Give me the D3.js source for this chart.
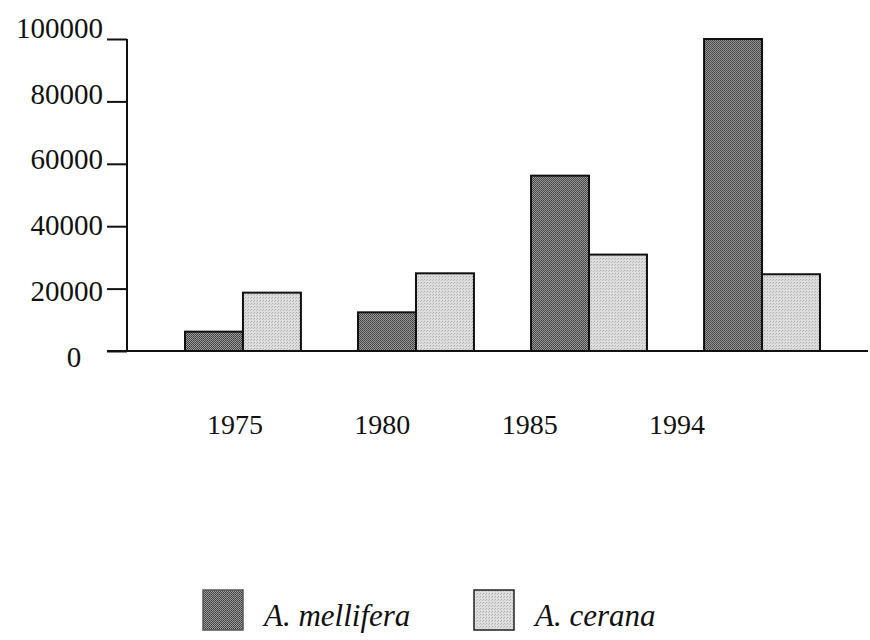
<!DOCTYPE html>
<html>
<head>
<meta charset="utf-8">
<script src="https://cdn.jsdelivr.net/npm/d3@7"></script>
<style>
  body { margin: 0; background: #fff; }
  text { font-family: "Liberation Serif", "Times New Roman", serif; fill: #111; }
</style>
</head>
<body>
<div id="chart"></div>
<script>
var years = ["1975", "1980", "1985", "1994"];
var mellifera = [6200, 12400, 56200, 100000];
var cerana = [18700, 24900, 30900, 24600];
var yTicks = [0, 20000, 40000, 60000, 80000, 100000];
var seriesNames = ["A. mellifera", "A. cerana"];

var width = 870, height = 640;

var svg = d3.select("#chart").append("svg")
  .attr("width", width)
  .attr("height", height);

// dithered fills like the printed original
var defs = svg.append("defs");
var dark = defs.append("pattern").attr("id", "darkFill")
  .attr("patternUnits", "userSpaceOnUse").attr("width", 2).attr("height", 2);
dark.append("rect").attr("width", 2).attr("height", 2).attr("fill", "#9c9c9c");
dark.append("rect").attr("width", 1).attr("height", 1).attr("fill", "#3c3c3c");
dark.append("rect").attr("x", 1).attr("y", 1).attr("width", 1).attr("height", 1).attr("fill", "#4a4a4a");

var light = defs.append("pattern").attr("id", "lightFill")
  .attr("patternUnits", "userSpaceOnUse").attr("width", 3).attr("height", 3);
light.append("rect").attr("width", 3).attr("height", 3).attr("fill", "#dedede");
light.append("rect").attr("width", 1).attr("height", 1).attr("fill", "#ababab");
light.append("rect").attr("x", 2).attr("y", 1).attr("width", 1).attr("height", 1).attr("fill", "#bcbcbc");

var fills = ["url(#darkFill)", "url(#lightFill)"];

var x0 = 127, baseY = 351;

var y = d3.scaleLinear()
  .domain([0, 100000])
  .range([baseY, 39]);

// labels in the original drift a little from their ticks
var labelShift = d3.scaleLinear().domain([0, 100000]).range([6, -11]);

var x = d3.scaleBand()
  .domain(years)
  .range([185, 820])
  .paddingInner(0.33)
  .paddingOuter(0);

var xSub = d3.scaleBand()
  .domain([0, 1])
  .range([0, x.bandwidth()]);

var xLabel = d3.scalePoint()
  .domain(years)
  .range([235, 677]);

// y axis
var yAxis = svg.append("g")
  .attr("transform", "translate(" + x0 + ",0)")
  .call(d3.axisLeft(y).tickValues(yTicks).tickSize(20).tickPadding(4).tickFormat(d3.format("d")));

yAxis.select(".domain").remove();
yAxis.selectAll(".tick line").attr("stroke", "#111").attr("stroke-width", 2);
yAxis.selectAll(".tick text")
  .attr("font-size", 29)
  .attr("fill", "#111")
  .attr("font-family", "Liberation Serif, serif")
  .attr("dy", "0.32em")
  .attr("y", function (d) { return labelShift(d); });

yAxis.selectAll(".tick text")
  .filter(function (d) { return d === 0; })
  .attr("text-anchor", "middle")
  .attr("x", -53);

svg.append("line")
  .attr("x1", x0).attr("x2", x0)
  .attr("y1", y(100000)).attr("y2", baseY)
  .attr("stroke", "#111").attr("stroke-width", 2);

// bars
var rows = years.map(function (yr, i) {
  return { year: yr, values: [mellifera[i], cerana[i]] };
});

var group = svg.selectAll("g.year")
  .data(rows)
  .enter().append("g")
  .attr("class", "year")
  .attr("transform", function (d) { return "translate(" + x(d.year) + ",0)"; });

group.selectAll("rect")
  .data(function (d) { return d.values; })
  .enter().append("rect")
  .attr("x", function (d, i) { return xSub(i); })
  .attr("y", function (d) { return y(d); })
  .attr("width", xSub.bandwidth())
  .attr("height", function (d) { return baseY - y(d); })
  .attr("fill", function (d, i) { return fills[i]; })
  .attr("stroke", "#111")
  .attr("stroke-width", 2);

// baseline
svg.append("line")
  .attr("x1", 107).attr("x2", 868)
  .attr("y1", baseY).attr("y2", baseY)
  .attr("stroke", "#111").attr("stroke-width", 2);

// year labels
svg.selectAll("text.year")
  .data(years)
  .enter().append("text")
  .attr("class", "year")
  .attr("x", function (d) { return xLabel(d); })
  .attr("y", 434)
  .attr("text-anchor", "middle")
  .attr("font-size", 28)
  .text(function (d) { return d; });

// legend
var legendX = [203, 474];
var legend = svg.selectAll("g.legend")
  .data(seriesNames)
  .enter().append("g")
  .attr("class", "legend")
  .attr("transform", function (d, i) { return "translate(" + legendX[i] + ",590)"; });

legend.append("rect")
  .attr("width", 40)
  .attr("height", 40)
  .attr("fill", function (d, i) { return fills[i]; })
  .attr("stroke", function (d, i) { return i === 0 ? "#555" : "#222"; })
  .attr("stroke-width", 1.5);

legend.append("text")
  .attr("x", 61)
  .attr("y", 36)
  .attr("font-size", 31)
  .attr("font-style", "italic")
  .text(function (d) { return d; });
</script>
</body>
</html>
